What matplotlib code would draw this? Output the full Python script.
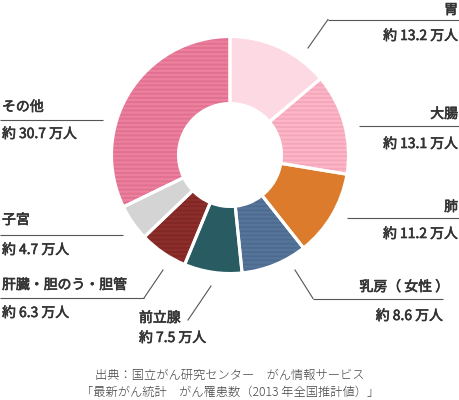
import matplotlib
matplotlib.use("Agg")
import matplotlib.pyplot as plt
import matplotlib.patheffects as pe

plt.rcParams['font.family'] = ['Noto Sans CJK JP', 'DejaVu Sans']
plt.rcParams['hatch.linewidth'] = 1.4

# data (unit: 万人)
sites = ['胃', '大腸', '肺', '乳房（ 女性 ）', '前立腺', '肝臓・胆のう・胆管', '子宮', 'その他']
cases = [13.2, 13.1, 11.2, 8.6, 7.5, 6.3, 4.7, 30.7]
colors = ['#fdd9e4', '#feb6c7', '#dc7b2c', '#56759a', '#295b63', '#8d2e2b', '#d4d4d4', '#ed809d']
stripes = [None, '#f3a7ba', None, '#4d6b8e', None, '#812725', None, '#e07192']
source_lines = ['出典：国立がん研究センター　がん情報サービス',
                '「最新がん統計　がん罹患数（2013 年全国推計値）」']

W, H = 460, 400
TEXT = '#333333'
LINE = '#555555'
# regular weight thickened a little, closer to the medium face of the original
MEDIUM = [pe.withStroke(linewidth=0.45, foreground=TEXT)]


def py(y):
    # reference is measured from the top, axes run bottom-up
    return H - y


fig = plt.figure(figsize=(W / 100, H / 100), dpi=100)
ax = fig.add_axes([0, 0, 1, 1])

center = (230, py(155))
radius = 118.5
ring = 67

wedges, _ = ax.pie(cases, colors=colors, startangle=90, counterclock=False,
                   radius=radius, center=center,
                   wedgeprops=dict(width=ring, linewidth=0))
for w, s in zip(wedges, stripes):
    if s:
        w.set_hatch('----')
        w.set_edgecolor(s)

# white gaps between slices
ax.pie(cases, startangle=90, counterclock=False, radius=radius, center=center,
       wedgeprops=dict(width=ring, fill=False, edgecolor='white', linewidth=2.2))


def put(x, y, s, ha):
    ax.text(x, py(y), s, ha=ha, va='center', fontsize=10,
            color=TEXT, path_effects=MEDIUM)


def label(name, value, x, y_name, y_line, y_val, line_x, ha, x_val=None):
    put(x, y_name, name, ha)
    put(x if x_val is None else x_val, y_val, f'約 {value} 万人', ha)
    ax.plot(line_x, [py(y_line)] * 2, color=LINE, lw=0.8, solid_capstyle='butt')


def leader(x0, y0, x1, y1):
    ax.plot([x0, x1], [py(y0), py(y1)], color=LINE, lw=0.8)


# right side
label(sites[0], cases[0], 458, 10, 19.5, 36, [328, 460], 'right')
leader(308, 48, 328, 19.5)
label(sites[1], cases[1], 458, 114, 126, 144, [359, 460], 'right')
label(sites[2], cases[2], 458, 207, 218, 234, [347, 460], 'right')
label(sites[3], cases[3], 449, 287, 298.5, 316, [313, 443], 'right', x_val=443)
leader(295, 270, 313, 298.5)

# left side
label(sites[7], cases[7], 2, 107, 120, 134, [0, 103], 'left')
label(sites[6], cases[6], 2, 220, 235, 250, [0, 123], 'left')
label(sites[5], cases[5], 2, 285, 298, 313, [0, 144], 'left')
leader(144, 298, 163, 270)

# bottom
put(139, 318, sites[4], 'left')
put(139, 338, f'約 {cases[4]} 万人', 'left')
leader(188, 320, 211, 286)

for i, line in enumerate(source_lines):
    ax.text(230, py(375 + 17 * i), line, ha='center', va='center',
            fontsize=8.8, color='#444444', fontweight='light')

ax.set_xlim(0, W)
ax.set_ylim(0, H)
ax.set_aspect('equal')
ax.axis('off')

fig.savefig('out.png', dpi=100)
